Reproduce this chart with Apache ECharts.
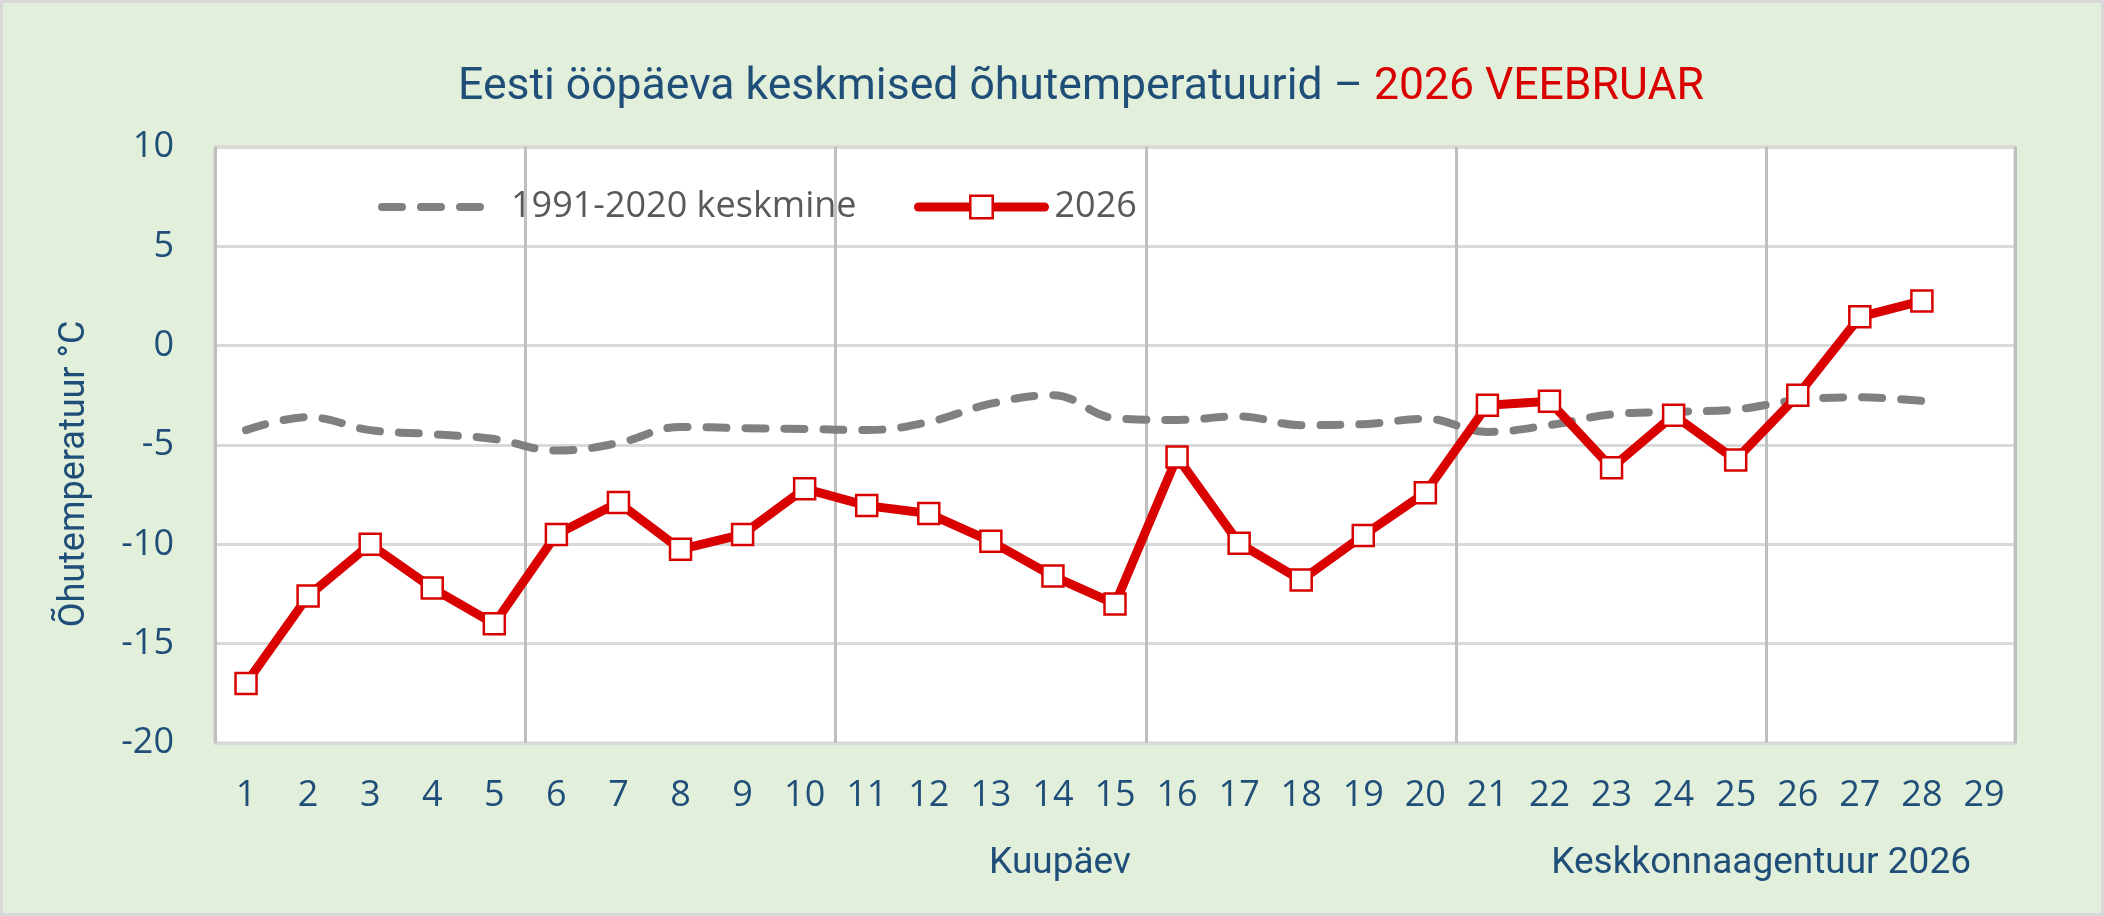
<!DOCTYPE html>
<html>
<head>
<meta charset="utf-8">
<script src="https://cdn.jsdelivr.net/npm/echarts@6/dist/echarts.min.js"></script>
<style>
html,body{margin:0;padding:0;background:#e2efda;}
#chart{width:2104px;height:916px;}
</style>
</head>
<body>
<div id="chart"></div>
<script>
const days = ['1','2','3','4','5','6','7','8','9','10','11','12','13','14','15','16','17','18','19','20','21','22','23','24','25','26','27','28','29'];
const normal = [-4.25,-3.6,-4.25,-4.45,-4.7,-5.28,-4.9,-4.09,-4.15,-4.19,-4.25,-3.84,-2.92,-2.49,-3.65,-3.74,-3.56,-4.0,-3.95,-3.68,-4.34,-4.0,-3.46,-3.33,-3.21,-2.74,-2.6,-2.78];
const year2026 = [-17.0,-12.6,-10.0,-12.2,-14.0,-9.5,-7.9,-10.25,-9.5,-7.2,-8.05,-8.45,-9.85,-11.6,-13.0,-5.6,-9.95,-11.8,-9.55,-7.4,-3.0,-2.8,-6.15,-3.5,-5.75,-2.5,1.45,2.25];
const yTicks = {min:-20, max:10, interval:5};
const titleMain = 'Eesti ööpäeva keskmised õhutemperatuurid – ';
const titleRed = '2026 VEEBRUAR';
const yName = 'Õhutemperatuur °C';
const xName = 'Kuupäev';
const source = 'Keskkonnaagentuur 2026';
const seriesNames = ['1991-2020 keskmine', '2026'];

const blue = '#1f4e79';
const red = '#d90000';
const chart = echarts.init(document.getElementById('chart'));
chart.setOption({
  backgroundColor: '#e2efda',
  animation: false,
  title: {
    text: '{a|' + titleMain + '}{b|' + titleRed + '}',
    left: 453, top: 60,
    textStyle: { rich: {
      a: {fontFamily: 'Roboto', fontSize: 44.5, fontWeight: 'normal', color: blue},
      b: {fontFamily: 'Roboto', fontSize: 44.5, fontWeight: 'normal', color: red}
    }}
  },
  graphic: [
    {type: 'rect', shape: {x: 1.5, y: 1.5, width: 2101, height: 913}, style: {fill: 'none', stroke: '#d9d9d9', lineWidth: 3}, silent: true},
    {type: 'text', x: 75, y: 474, rotation: Math.PI / 2, style: {text: yName, fontFamily: 'Roboto', fontSize: 36, fill: blue, align: 'center', verticalAlign: 'middle'}},
    {type: 'text', x: 1060, y: 864, style: {text: xName, fontFamily: 'Roboto', fontSize: 37, fill: blue, align: 'center', verticalAlign: 'middle'}},
    {type: 'text', x: 1971, y: 864, style: {text: source, fontFamily: 'Roboto', fontSize: 37, fill: blue, align: 'right', verticalAlign: 'middle'}}
  ],
  legend: [
    {
      data: [seriesNames[0]], left: 373, top: 184, itemWidth: 110, itemHeight: 28,
      itemStyle: {opacity: 0},
      lineStyle: {width: 8, type: [20, 19], cap: 'round', color: '#808080'},
      textStyle: {fontFamily: 'Open Sans', fontSize: 36, color: '#595959', padding: [0, 0, 0, 14]}
    },
    {
      data: [seriesNames[1]], left: 909, top: 184, itemWidth: 126, itemHeight: 28,
      lineStyle: {width: 9, cap: 'round', color: red},
      itemStyle: {color: '#ffffff', borderColor: red, borderWidth: 2.5},
      textStyle: {fontFamily: 'Open Sans', fontSize: 36, color: '#595959', padding: [0, 0, 0, 5]}
    }
  ],
  grid: {
    left: 215, top: 147, width: 1800, height: 596,
    show: true, backgroundColor: '#ffffff', borderColor: '#d0d0d0', borderWidth: 3
  },
  xAxis: {
    type: 'category', data: days, boundaryGap: true,
    axisLine: {show: false}, axisTick: {show: false},
    axisLabel: {fontFamily: 'Open Sans', fontSize: 36, color: blue, margin: 35, interval: 0},
    splitLine: {show: true, interval: function (i) { return i % 5 === 0; }, lineStyle: {color: '#bfbfbf', width: 3}}
  },
  yAxis: {
    type: 'value', min: yTicks.min, max: yTicks.max, interval: yTicks.interval,
    axisLine: {show: false}, axisTick: {show: false},
    axisLabel: {fontFamily: 'Open Sans', fontSize: 36, color: blue, margin: 41},
    splitLine: {lineStyle: {color: '#d9d9d9', width: 3}}
  },
  series: [
    {
      name: seriesNames[0], type: 'line', data: normal, smooth: 0.4, symbol: 'none',
      lineStyle: {color: '#808080', width: 8, type: [20, 19], cap: 'round', join: 'round'},
      itemStyle: {color: '#808080'}, z: 2
    },
    {
      name: seriesNames[1], type: 'line', data: year2026, symbol: 'rect', symbolSize: 21,
      lineStyle: {color: red, width: 9, cap: 'round', join: 'round'},
      itemStyle: {color: '#ffffff', borderColor: red, borderWidth: 2.5}, z: 3
    }
  ]
});
</script>
</body>
</html>
